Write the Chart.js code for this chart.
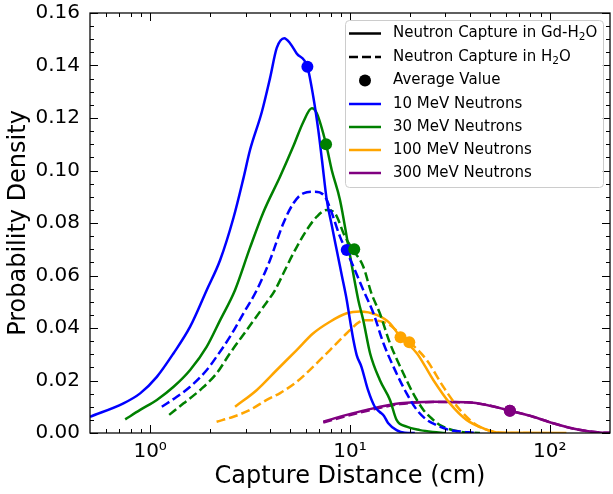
<!DOCTYPE html>
<html>
<head>
<meta charset="utf-8">
<script src="https://cdn.jsdelivr.net/npm/chart.js@4"></script>
<style>
  body { margin: 0; background: #fff; }
  #wrap { width: 613px; height: 494px; }
</style>
</head>
<body>
<div id="wrap"><canvas id="chart" width="613" height="494"></canvas></div>
<script>
// --- DATA ---
const blueGdX = [0.5, 0.735, 0.891, 1.08, 1.31, 1.585, 1.92, 2.24, 2.61, 2.93, 3.16, 3.62, 3.98, 4.30, 4.69, 5.01, 5.41, 6.12, 6.55, 6.94, 7.24, 7.65, 8.10, 8.58, 9.09, 9.63, 10.0, 10.4, 10.8, 11.4, 12.3, 13.3, 14.1, 14.8, 15.5, 17.1, 18.8, 21.1];
const blueGdY = [0.0062, 0.0113, 0.0151, 0.0214, 0.0304, 0.0405, 0.0545, 0.0659, 0.0819, 0.0971, 0.1078, 0.1223, 0.1352, 0.1467, 0.1504, 0.1485, 0.1446, 0.1395, 0.1281, 0.1154, 0.1040, 0.0888, 0.0792, 0.0697, 0.0602, 0.0507, 0.0430, 0.0354, 0.0297, 0.0253, 0.0164, 0.0100, 0.0080, 0.0065, 0.0038, 0.0011, 0.0001, 0];

const blueH2OX = [1.144, 1.36, 1.585, 1.92, 2.15, 2.51, 2.93, 3.42, 3.98, 4.64, 5.21, 5.84, 6.68, 7.50, 8.04, 8.91, 9.63, 10.4, 11.65, 13.1, 14.7, 17.1, 19.2, 21.6, 24.2, 27.1, 31.6, 37.6, 43.7];
const blueH2OY = [0.0100, 0.0138, 0.0176, 0.0240, 0.0291, 0.0367, 0.0456, 0.0545, 0.0659, 0.0799, 0.0875, 0.0913, 0.0919, 0.0900, 0.0846, 0.0748, 0.0691, 0.0634, 0.0545, 0.0456, 0.0342, 0.0227, 0.0151, 0.0088, 0.0050, 0.0030, 0.0011, 0.0004, 0];

const greenGdX = [0.75, 0.891, 1.08, 1.31, 1.585, 1.92, 2.24, 2.66, 3.16, 3.69, 4.47, 5.21, 5.84, 6.44, 6.82, 7.59, 8.10, 8.91, 9.89, 11.0, 11.65, 12.6, 14.1, 15.85, 17.1, 19.2, 22.4, 26.0, 29.9];
const greenGdY = [0.0052, 0.0088, 0.0126, 0.0176, 0.0240, 0.0329, 0.0430, 0.0545, 0.0706, 0.0842, 0.0977, 0.1093, 0.1185, 0.1237, 0.1218, 0.1100, 0.1002, 0.0888, 0.0697, 0.0507, 0.0430, 0.0304, 0.0202, 0.0126, 0.0050, 0.0024, 0.0011, 0.0004, 0];

const greenH2OX = [1.245, 1.47, 1.78, 2.15, 2.51, 3.04, 3.69, 4.22, 4.73, 5.31, 6.07, 6.82, 7.65, 8.41, 9.44, 10.3, 11.65, 12.8, 14.1, 15.85, 18.5, 20.7, 23.3, 26.1, 28.2, 35.5, 44.7];
const greenH2OY = [0.0069, 0.0113, 0.0164, 0.0227, 0.0304, 0.0392, 0.0481, 0.0545, 0.0621, 0.0697, 0.0773, 0.0824, 0.0850, 0.0837, 0.0748, 0.0700, 0.0634, 0.0532, 0.0456, 0.0342, 0.0227, 0.0151, 0.0088, 0.0050, 0.0030, 0.0005, 0];

const orangeGdX = [2.66, 3.42, 4.30, 5.41, 6.55, 7.94, 9.63, 11.2, 13.6, 15.85, 17.9, 21.6, 26.1, 31.6, 38.3, 46.4, 56.2, 121];
const orangeGdY = [0.0100, 0.0164, 0.0240, 0.0316, 0.0380, 0.0424, 0.0456, 0.0463, 0.0450, 0.0418, 0.0365, 0.0304, 0.0202, 0.0113, 0.0050, 0.0018, 0.0001, 0];

const orangeH2OX = [2.15, 2.61, 3.16, 3.83, 4.47, 5.41, 6.55, 7.94, 9.63, 11.2, 12.1, 13.6, 15.3, 17.4, 19.8, 24.2, 29.3, 35.5, 43.0, 52.0, 59.6, 80];
const orangeH2OY = [0.0043, 0.0062, 0.0088, 0.0126, 0.0152, 0.0195, 0.0253, 0.0316, 0.0380, 0.0424, 0.0430, 0.0428, 0.0418, 0.0385, 0.0347, 0.0278, 0.0176, 0.0088, 0.0030, 0.0005, 0, 0];

const purpleGdX = [7.35, 9.63, 12.1, 17.8, 26.1, 38.3, 48.3, 63.1, 82.5, 104, 136, 178, 200];
const purpleGdY = [0.0043, 0.0069, 0.0088, 0.0113, 0.0119, 0.0117, 0.0107, 0.0085, 0.0062, 0.0037, 0.0014, 0.0002, 0.0001];

const purpleH2OX = [7.35, 9.63, 12.1, 17.8, 26.1, 38.3, 48.3, 63.1, 82.5, 104, 136, 178, 200];
const purpleH2OY = [0.0040, 0.0065, 0.0084, 0.0110, 0.0118, 0.0117, 0.0107, 0.0085, 0.0062, 0.0037, 0.0014, 0.0002, 0.0001];

// average values (dots)
const avgX = [6.12, 9.63, 7.59, 10.5, 17.9, 19.8, 63.1, 63.1];
const avgY = [0.1395, 0.0697, 0.1100, 0.0700, 0.0365, 0.0346, 0.0085, 0.0085];
const avgColor = ["#0000ff", "#0000ff", "#008000", "#008000", "#ffa500", "#ffa500", "#800080", "#800080"];

const energyLabels = ["10 MeV Neutrons", "30 MeV Neutrons", "100 MeV Neutrons", "300 MeV Neutrons"];
const energyColors = ["#0000ff", "#008000", "#ffa500", "#800080"];

const xTickVals = [1, 10, 100];
const xTickLabels = ["10\u2070", "10\u00B9", "10\u00B2"];

const FONT = "DejaVu Sans";

// --- HELPERS ---
function pts(xs, ys) {
    return xs.map((x, i) => ({ x: x, y: ys[i] }));
}

function curve(xs, ys, color, dashed) {
    return {
        data: pts(xs, ys),
        borderColor: color,
        borderWidth: 2.5,
        borderDash: dashed ? [9, 4] : [],
        pointRadius: 0,
        fill: false,
        cubicInterpolationMode: "monotone",
        order: 1
    };
}

// --- INWARD TICKS, FRAME, LEGEND ---
const frameTicks = {
    id: "frameTicks",
    afterDatasetsDraw(chart) {
        const { ctx, chartArea: a, scales: { x, y } } = chart;
        ctx.save();
        ctx.strokeStyle = "#000";
        ctx.lineWidth = 1;

        const seg = (x1, y1, x2, y2) => {
            ctx.beginPath();
            ctx.moveTo(x1, y1);
            ctx.lineTo(x2, y2);
            ctx.stroke();
        };

        // x major / minor
        xTickVals.forEach(v => {
            const p = Math.round(x.getPixelForValue(v)) + 0.5;
            seg(p, a.bottom, p, a.bottom - 8);
            seg(p, a.top, p, a.top + 8);
        });
        [0.1, 1, 10, 100].forEach(d => {
            for (let m = 2; m <= 9; m++) {
                const v = m * d;
                if (v <= 0.5 || v >= 200) continue;
                const p = Math.round(x.getPixelForValue(v)) + 0.5;
                seg(p, a.bottom, p, a.bottom - 4);
                seg(p, a.top, p, a.top + 4);
            }
        });

        // y major / minor
        for (let i = 0; i <= 32; i++) {
            const v = i * 0.005;
            const p = Math.round(y.getPixelForValue(v)) + 0.5;
            const len = i % 4 === 0 ? 8 : 4;
            seg(a.left, p, a.left + len, p);
            seg(a.right, p, a.right - len, p);
        }

        ctx.lineWidth = 1.25;
        ctx.strokeRect(a.left, a.top, a.right - a.left, a.bottom - a.top);
        ctx.restore();
    },

    afterDraw(chart) {
        const ctx = chart.ctx;
        ctx.save();

        // legend frame
        ctx.beginPath();
        ctx.roundRect(345.5, 20.5, 258, 167, 4);
        ctx.fillStyle = "rgba(255,255,255,0.8)";
        ctx.fill();
        ctx.strokeStyle = "#cccccc";
        ctx.lineWidth = 1;
        ctx.stroke();

        const hx0 = 349, hx1 = 381, tx = 393;
        const rowY = [33.5, 57, 80.5, 104, 127, 150, 173];
        ctx.font = "15px '" + FONT + "'";
        ctx.textBaseline = "middle";
        ctx.fillStyle = "#000";

        const handle = (yy, color, dash) => {
            ctx.beginPath();
            ctx.setLineDash(dash);
            ctx.strokeStyle = color;
            ctx.lineWidth = 2.5;
            ctx.moveTo(hx0, yy);
            ctx.lineTo(hx1, yy);
            ctx.stroke();
            ctx.setLineDash([]);
        };

        // text with subscript 2 in H2O
        const subText = (pre, yy) => {
            ctx.font = "15px '" + FONT + "'";
            ctx.fillText(pre, tx, yy);
            let w = ctx.measureText(pre).width;
            ctx.font = "10.5px '" + FONT + "'";
            ctx.fillText("2", tx + w, yy + 4);
            w += ctx.measureText("2").width;
            ctx.font = "15px '" + FONT + "'";
            ctx.fillText("O", tx + w, yy);
        };

        handle(rowY[0], "#000", []);
        ctx.fillStyle = "#000";
        subText("Neutron Capture in Gd-H", rowY[0]);

        handle(rowY[1], "#000", [9, 4]);
        ctx.fillStyle = "#000";
        subText("Neutron Capture in H", rowY[1]);

        ctx.beginPath();
        ctx.arc(365, rowY[2], 6, 0, Math.PI * 2);
        ctx.fillStyle = "#000";
        ctx.fill();
        ctx.font = "15px '" + FONT + "'";
        ctx.fillText("Average Value", tx, rowY[2]);

        energyLabels.forEach((lab, i) => {
            handle(rowY[3 + i], energyColors[i], []);
            ctx.fillStyle = "#000";
            ctx.font = "15px '" + FONT + "'";
            ctx.fillText(lab, tx, rowY[3 + i]);
        });

        ctx.restore();
    }
};

// --- CHART ---
Chart.defaults.font.family = FONT;
Chart.defaults.color = "#000";

new Chart(document.getElementById("chart"), {
    type: "line",
    data: {
        datasets: [
            {
                data: pts(avgX, avgY),
                showLine: false,
                pointRadius: 6,
                pointBackgroundColor: avgColor,
                pointBorderWidth: 0,
                order: 0
            },
            curve(blueGdX, blueGdY, energyColors[0], false),
            curve(blueH2OX, blueH2OY, energyColors[0], true),
            curve(greenGdX, greenGdY, energyColors[1], false),
            curve(greenH2OX, greenH2OY, energyColors[1], true),
            curve(orangeGdX, orangeGdY, energyColors[2], false),
            curve(orangeH2OX, orangeH2OY, energyColors[2], true),
            curve(purpleGdX, purpleGdY, energyColors[3], false),
            curve(purpleH2OX, purpleH2OY, energyColors[3], true)
        ]
    },
    options: {
        responsive: false,
        animation: false,
        devicePixelRatio: 1,
        // autoPadding off, otherwise the plot area loses a few px on the right
        layout: { autoPadding: false, padding: { top: 13, right: 3, left: 0, bottom: 0 } },
        plugins: {
            legend: { display: false },
            tooltip: { enabled: false }
        },
        scales: {
            x: {
                type: "logarithmic",
                min: 0.5,
                max: 200,
                grid: { display: false, drawTicks: false },
                border: { display: false },
                afterBuildTicks: s => { s.ticks = xTickVals.map(v => ({ value: v })); },
                afterFit: s => { s.height = 61; s.paddingLeft = 0; s.paddingRight = 0; },
                ticks: {
                    autoSkip: false,
                    maxRotation: 0,
                    padding: 7,
                    font: { size: 20 },
                    callback: v => xTickLabels[xTickVals.indexOf(v)] ?? ""
                },
                title: {
                    display: true,
                    text: "Capture Distance (cm)",
                    font: { size: 24 },
                    padding: { top: 0, bottom: 3 }
                }
            },
            y: {
                min: 0,
                max: 0.16,
                grid: { display: false, drawTicks: false },
                border: { display: false },
                afterFit: s => { s.width = 90; s.paddingTop = 0; s.paddingBottom = 0; s.paddingLeft = 0; s.paddingRight = 0; },
                ticks: {
                    stepSize: 0.02,
                    padding: 10,
                    font: { size: 20 },
                    callback: v => v.toFixed(2)
                },
                title: {
                    display: true,
                    text: "Probability Density",
                    font: { size: 24 },
                    padding: { top: 4, bottom: 0 }
                }
            }
        }
    },
    plugins: [frameTicks]
});
</script>
</body>
</html>
